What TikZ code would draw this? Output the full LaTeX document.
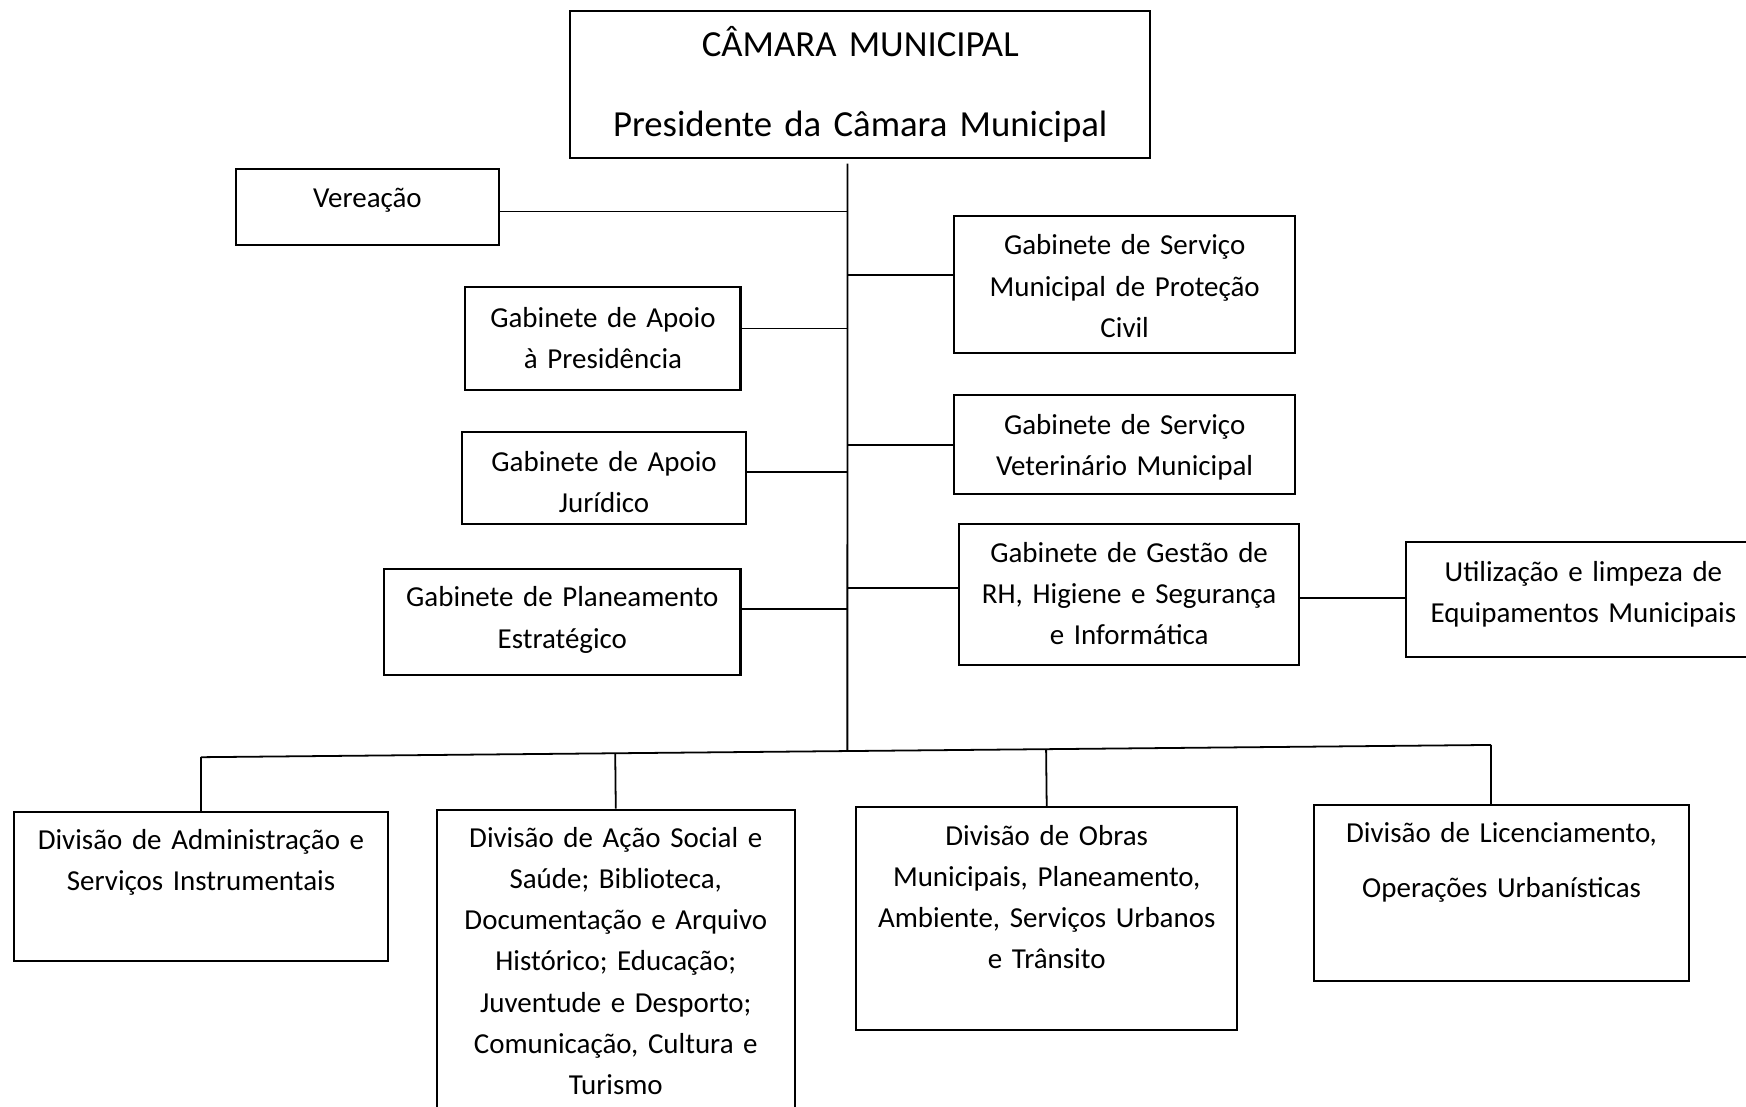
\documentclass[tikz,border=0pt]{standalone}
\usepackage{fontspec}
\setmainfont{Carlito}
\usetikzlibrary{calc}
\begin{document}
\begin{tikzpicture}[x=0.5pt,y=-0.5pt,
  boxst/.style={draw, line width=0.9pt, inner sep=0pt},
  lbl/.style={anchor=base, inner sep=0pt, align=center, text width=200pt, font=\fontsize{13}{18.5}\selectfont},
  conn/.style={line width=0.8pt}]
\useasboundingbox (0,0) rectangle (1568,994);
\begin{scope}
\clip (0,0) rectangle (1568,994);
% boxes
\node[boxst, minimum width=260.5pt, minimum height=66pt] (cm) at (772.5,76) {};
\node[lbl, font=\fontsize{16.5}{36}\selectfont, text width=260pt] (cm-t) at (772.5,51) {CÂMARA MUNICIPAL\\Presidente da Câmara Municipal};

\node[boxst, minimum width=118pt, minimum height=34pt] (ver) at (330,186) {};
\node[lbl] (ver-t) at (330,186) {Vereação};

\node[boxst, minimum width=153pt, minimum height=61.5pt] (prot) at (1010,255.5) {};
\node[lbl] (prot-t) at (1010,229) {Gabinete de Serviço\\Municipal de Proteção\\Civil};

\node[boxst, minimum width=123.5pt, minimum height=46pt] (pres) at (541.5,304) {};
\node[lbl] (pres-t) at (541.5,294) {Gabinete de Apoio\\à Presidência};

\node[boxst, minimum width=153pt, minimum height=44.5pt] (vet) at (1010,399.5) {};
\node[lbl] (vet-t) at (1010,390) {Gabinete de Serviço\\Veterinário Municipal};

\node[boxst, minimum width=127.5pt, minimum height=41.5pt] (jur) at (542.5,429.5) {};
\node[lbl] (jur-t) at (542.5,423) {Gabinete de Apoio\\Jurídico};

\node[boxst, minimum width=153pt, minimum height=63pt] (rh) at (1014,534) {};
\node[lbl] (rh-t) at (1014,505) {Gabinete de Gestão de\\RH, Higiene e Segurança\\e Informática};

\node[boxst, minimum width=158.5pt, minimum height=51.5pt] (uti) at (1421.5,538.5) {};
\node[lbl] (uti-t) at (1422,522) {Utilização e limpeza de\\Equipamentos Municipais};

\node[boxst, minimum width=160pt, minimum height=47.5pt] (plan) at (505,558.5) {};
\node[lbl] (plan-t) at (505,545) {Gabinete de Planeamento\\Estratégico};

\node[boxst, minimum width=167.5pt, minimum height=67pt] (d1) at (180.5,796) {};
\node[lbl] (d1-t) at (180.5,763) {Divisão de Administração e\\Serviços Instrumentais};

\node[boxst, minimum width=161pt, minimum height=139pt] (d2) at (553,866) {};
\node[lbl] (d2-t) at (553,761) {Divisão de Ação Social e\\Saúde; Biblioteca,\\Documentação e Arquivo\\Histórico; Educação;\\Juventude e Desporto;\\Comunicação, Cultura e\\Turismo};

\node[boxst, minimum width=171pt, minimum height=100pt] (d3) at (940,825) {};
\node[lbl] (d3-t) at (940,759) {Divisão de Obras\\Municipais, Planeamento,\\Ambiente, Serviços Urbanos\\e Trânsito};

\node[boxst, minimum width=168.5pt, minimum height=79pt] (d4) at (1348.5,802) {};
\node[lbl] (d4-t) at (1348.5,757) {Divisão de Licenciamento,\\[6pt]Operações Urbanísticas};

% trunk and bus
\coordinate (t0) at (761,147);
\coordinate (t1) at (761,700);
\coordinate (busL) at (180.5,680);
\coordinate (busR) at (1339,669);
\coordinate (d4n) at ([xshift=-4.75pt]d4.north);
\draw[conn] (t0) -- (intersection of t0--t1 and busL--busR);
\draw[conn] (busL) -- (busR);
\draw[conn] (d1.north) -- (busL);
\draw[conn] (d2.north) -- ($(busL)!(d2.north)!(busR)$);
\draw[conn] (d3.north) -- ($(busL)!(d3.north)!(busR)$);
\draw[conn] (d4n) -- (busR);

% side connectors
\coordinate (c1) at ([yshift=-2pt]ver.east);
\draw[conn] (c1) -- (c1 -| t0);
\coordinate (c2) at ([yshift=4.25pt]prot.west);
\draw[conn] (c2) -- (c2 -| t0);
\coordinate (c3) at ([yshift=4.5pt]pres.east);
\draw[conn] (c3) -- (c3 -| t0);
\coordinate (c4) at (vet.west);
\draw[conn] (c4) -- (c4 -| t0);
\coordinate (c5) at ([yshift=2.75pt]jur.east);
\draw[conn] (c5) -- (c5 -| t0);
\coordinate (c6) at ([yshift=3pt]rh.west);
\draw[conn] (c6) -- (c6 -| t0);
\coordinate (c7) at ([yshift=5.75pt]plan.east);
\draw[conn] (c7) -- (c7 -| t0);
\coordinate (c8) at ([yshift=-1.5pt]rh.east);
\draw[conn] (c8) -- (c8 -| uti.west);
\end{scope}
\end{tikzpicture}
\end{document}
